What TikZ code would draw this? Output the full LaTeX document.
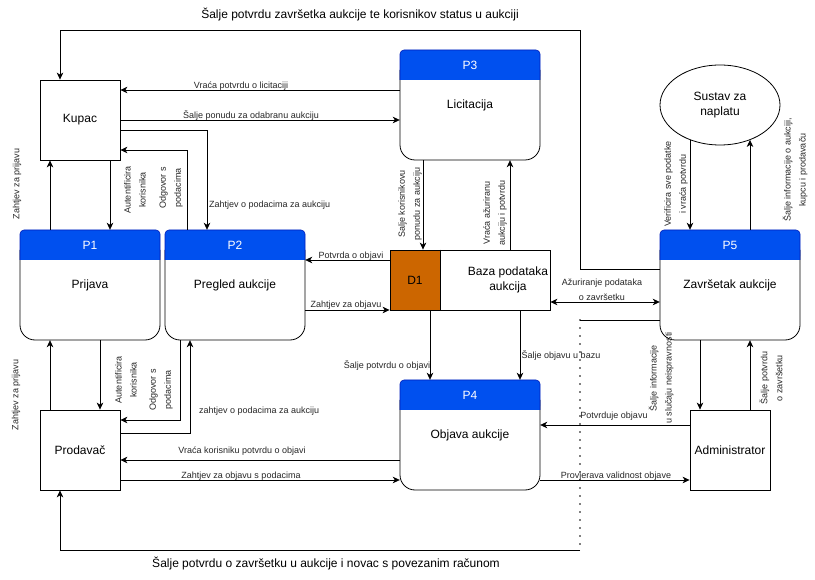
\documentclass[tikz,border=0pt]{standalone}
\usepackage{fontspec}
\setmainfont{Liberation Sans}
\usetikzlibrary{arrows.meta,shapes.geometric,calc}
\definecolor{hdr}{HTML}{0050EF}
\definecolor{hdrb}{HTML}{001DBC}
\definecolor{dorange}{HTML}{CC6600}
\newcommand\procshape[2]{%
  \draw[line width=0.8pt, fill=white, rounded corners=15pt] (#1,#2+20) -- (#1,#2+110) -- (#1+140,#2+110) -- (#1+140,#2+20);
  \fill[hdr, rounded corners=4pt] (#1,#2) rectangle (#1+140,#2+30);
  \fill[hdr] (#1,#2+12) rectangle (#1+140,#2+30);
  \draw[hdrb, line width=0.6pt, rounded corners=4pt] (#1,#2+30) -- (#1,#2) -- (#1+140,#2) -- (#1+140,#2+30);
}
\tikzset{
  arr/.style={-{Stealth[length=7pt,width=6.5pt,inset=2pt]}, line width=0.8pt},
  darr/.style={{Stealth[length=7pt,width=6.5pt,inset=2pt]}-{Stealth[length=7pt,width=6.5pt,inset=2pt]}, line width=0.8pt},
  plain/.style={line width=0.8pt},
  dots/.style={line width=1.6pt, line cap=round, dash pattern=on 0pt off 8pt},
  lbl/.style={font=\fontsize{9}{15}\selectfont, inner sep=0pt, text=black!85},
  big/.style={font=\fontsize{12}{15}\selectfont, inner sep=0pt},
  ent/.style={draw, line width=0.8pt, fill=white, minimum width=80pt, minimum height=80pt, inner sep=0pt, font=\fontsize{12}{15}\selectfont},
  pbox/.style={minimum width=140pt, minimum height=110pt, inner sep=0pt, font=\fontsize{12}{15}\selectfont},
  ptitle/.style={text=white, inner sep=0pt, font=\fontsize{12}{15}\selectfont},
}
\begin{document}
\begin{tikzpicture}[x=1pt,y=-1pt]
\useasboundingbox (0,0) rectangle (815,580);
\fill[white] (0,0) rectangle (815,580);

% process shapes
\procshape{20}{230}
\procshape{165}{230}
\procshape{400}{50}
\procshape{400}{380}
\procshape{660}{230}
\node[pbox] (P1) at (90,285) {Prijava};
\node[ptitle] (P1t) at (90,245) {P1};
\node[pbox] (P2) at (235,285) {Pregled aukcije};
\node[ptitle] (P2t) at (235,245) {P2};
\node[pbox] (P3) at (470,105) {Licitacija};
\node[ptitle] (P3t) at (470,65) {P3};
\node[pbox] (P4) at (470,435) {Objava aukcije};
\node[ptitle] (P4t) at (470,395) {P4};
\node[pbox] (P5) at (730,285) {Završetak aukcije};
\node[ptitle] (P5t) at (730,245) {P5};

% entities
\node[ent] (Kupac) at (80,120) {Kupac};
\node[ent] (Prod) at (80,450) {Prodavač};
\node[ent] (Admin) at (730,450) {Administrator};
\node[draw, ellipse, line width=0.8pt, minimum width=120pt, minimum height=80pt, inner sep=0pt, align=center, font=\fontsize{12}{15}\selectfont] (Sustav) at (720,105) {Sustav za\\naplatu};

% data store
\fill[dorange] (390,250) rectangle (440,310);
\node[draw, line width=0.8pt, minimum width=160pt, minimum height=60pt, inner sep=0pt] (D1) at (470,280) {};
\draw[plain] (440,0 |- D1.north) -- (440,0 |- D1.south);
\node[big] (D1t) at (415,280) {D1};
\node[big, align=center] (D1n) at (508,280) {Baza podataka\\aukcija};

% top feedback loop
\draw[arr] (P5.west |- 0,269) -- (580,269) -- (580,30) -- (60,30) -- (60,0 |- Kupac.north);
\node[big] (ltop) at (360,15) {Šalje potvrdu završetka aukcije te korisnikov status u aukciji};

% bottom loop
\draw[plain] (P5.west |- 0,320) -- (580,320);
\draw[dots] (580,320) -- (580,550);
\draw[arr] (580,550) -- (60,550) -- (60,0 |- Prod.south);
\node[big] (lbot) at (326,564) {Šalje potvrdu o završetku u aukcije i novac s povezanim računom};

% Kupac <-> P3
\draw[arr] (P3.west |- 0,90) -- (Kupac.east |- 0,90);
\node[lbl] (l1) at (241,86) {Vraća potvrdu o licitaciji};
\draw[arr] (Kupac.east |- 0,120) -- (P3.west |- 0,120);
\node[lbl] (l2) at (251,116) {Šalje ponudu za odabranu aukciju};

% Kupac <-> P2
\draw[arr] (Kupac.east |- 0,130) -- (207,130) -- (207,0 |- P2.north);
\node[lbl, anchor=west] (l3) at (209,205) {Zahtjev o podacima za aukciju};
\draw[arr] (187,0 |- P2.north) -- (187,150) -- (Kupac.east |- 0,150);
\node[lbl, rotate=90, align=center] (l4) at (171,188) {Odgovor s\\podacima};

% Kupac <-> P1
\draw[arr] (110,0 |- Kupac.south) -- (110,0 |- P1.north);
\node[lbl, rotate=90, align=center] (l5) at (135,190) {Autentificira\\korisnika};
\draw[arr] (50,0 |- P1.north) -- (50,0 |- Kupac.south);
\node[lbl, rotate=90] (l6) at (17,184) {Zahtjev za prijavu};

% P1 <-> Prodavac
\draw[arr] (100,0 |- P1.south) -- (100,0 |- Prod.north);
\node[lbl, rotate=90, align=center] (l7) at (126,380) {Autentificira\\korisnika};
\draw[arr] (50,0 |- Prod.north) -- (50,0 |- P1.south);
\node[lbl, rotate=90] (l8) at (16,395) {Zahtjev za prijavu};

% P2 <-> Prodavac
\draw[arr] (180,0 |- P2.south) -- (180,420) -- (Prod.east |- 0,420);
\node[lbl, rotate=90, align=center] (l9) at (161,390) {Odgovor s\\podacima};
\draw[arr] (Prod.east |- 0,433) -- (190,433) -- (190,0 |- P2.south);
\node[lbl, anchor=west] (l10) at (199,411) {zahtjev o podacima za aukciju};

% P4 <-> Prodavac
\draw[arr] (P4.west |- 0,460) -- (Prod.east |- 0,460);
\node[lbl] (l11) at (242,451) {Vraća korisniku potvrdu o objavi};
\draw[arr] (Prod.east |- 0,480) -- (P4.west |- 0,480);
\node[lbl] (l12) at (241,476) {Zahtjev za objavu s podacima};

% D1 <-> P2
\draw[arr] (D1.west |- 0,260) -- (P2.east |- 0,260);
\node[lbl] (l13) at (351,256) {Potvrda o objavi};
\draw[arr] (P2.east |- 0,310) -- (D1.west |- 0,310);
\node[lbl] (l14) at (346,305) {Zahtjev za objavu};

% P3 <-> D1
\draw[arr] (423,0 |- P3.south) -- (423,0 |- D1.north);
\node[lbl, rotate=90, align=center] (l15) at (410,204) {Salje korisnikovu\\ponudu za aukciju};
\draw[arr] (510,0 |- D1.north) -- (510,0 |- P3.south);
\node[lbl, rotate=90, align=center] (l16) at (495,213) {Vraća ažuriranu\\aukciju i potvrdu};

% D1 -> P4
\draw[arr] (430,0 |- D1.south) -- (430,0 |- P4.north);
\node[lbl] (l17) at (387,366) {Šalje potvrdu o objavi};
\draw[arr] (520,0 |- D1.south) -- (520,0 |- P4.north);
\node[lbl] (l18) at (561,356) {Šalje objavu u bazu};

% D1 <-> P5
\draw[darr] (D1.east |- 0,302) -- (P5.west |- 0,302);
\node[lbl, align=center] (l19) at (602,290) {Ažuriranje podataka\\o završetku};

% P5 <-> Admin
\draw[arr] (700,0 |- P5.south) -- (700,0 |- Admin.north);
\node[lbl, rotate=90, align=center] (l20) at (661,378) {Šalje informacije\\u slučaju neispravnosti};
\draw[arr] (750,0 |- Admin.north) -- (750,0 |- P5.south);
\node[lbl, rotate=90, align=center] (l21) at (771,378) {Šalje potvrdu\\o završetku};

% Admin <-> P4
\draw[arr] (Admin.west |- 0,425) -- (P4.east |- 0,425);
\node[lbl] (l22) at (614,416) {Potvrduje objavu};
\draw[arr] (P4.east |- 0,480) -- (Admin.west |- 0,480);
\node[lbl] (l23) at (616,476) {Provjerava validnost objave};

% Sustav <-> P5
\draw[arr] (690,0 |- Sustav.229) -- (690,0 |- P5.north);
\node[lbl, rotate=90, align=center] (l24) at (676,184) {Verificira sve podatke\\i vraća potvrdu};
\draw[arr] (750,0 |- P5.north) -- (750,0 |- Sustav.311);
\node[lbl, rotate=90, align=center] (l25) at (795,170) {Šalje informacije o aukciji,\\kupcu i prodavaču};
\end{tikzpicture}
\end{document}
